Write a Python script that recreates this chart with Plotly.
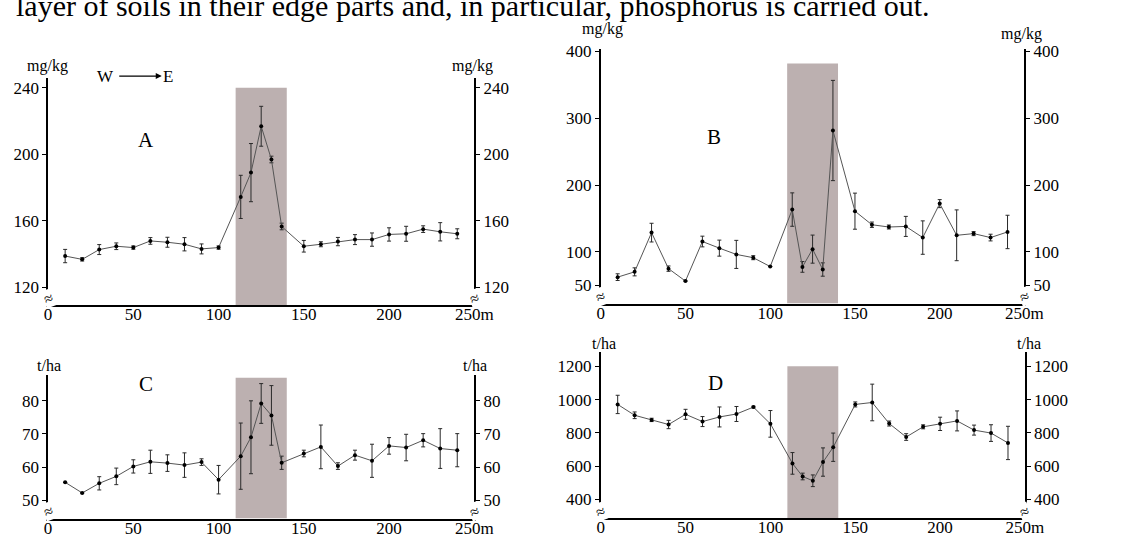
import plotly.graph_objects as go

W, H = 1139, 539
def px(x):
    return x / W
def py(y):
    return 1 - y / H

FONT = "Liberation Serif"

# ---------------- data ----------------
distance_m = [10, 20, 30, 40, 50, 60, 70, 80, 90, 100, 113, 119, 125, 131, 137,
              150, 160, 170, 180, 190, 200, 210, 220, 230, 240]

a_values = [138.8, 136.8, 142.7, 144.7, 143.9, 147.9, 147.1, 145.9, 143.1, 143.9,
            174.4, 189.0, 216.9, 196.9, 156.6,
            144.7, 145.9, 147.5, 148.7, 148.7, 151.8, 152.2, 155.0, 153.4, 152.2]
a_errors = [4, 1, 3, 2, 1, 2, 3, 4, 3, 1,
            13, 17.5, 12, 2, 2,
            3.5, 1.5, 2.5, 3, 4, 4, 4.5, 2, 5.5, 3]

b_values = [62.3, 70.2, 128.9, 75.0, 56.4, 115.6, 105.7, 96.3, 91.4, 78.1,
            163.4, 77.6, 104.2, 73.7, 281.7,
            161.0, 140.7, 137.3, 138.2, 121.5, 172.3, 124.9, 127.4, 121.5, 129.9]
b_errors = [5, 6, 14, 4, 0, 8, 12, 21, 3, 0,
            25, 8, 21, 10, 75,
            27, 4, 3, 15, 25, 6, 38, 3, 5, 25]

c_values = [55.4, 52.2, 55.1, 57.2, 60.2, 61.6, 61.2, 60.6, 61.5, 56.2,
            63.3, 69.0, 79.2, 75.6, 61.3,
            64.1, 66.1, 60.3, 63.6, 61.9, 66.4, 65.9, 68.1, 65.6, 65.1]
c_errors = [0, 0, 2, 2.5, 2, 3.5, 2.5, 3.7, 1, 4.3,
            10, 11, 6, 9, 2,
            1, 6.6, 1, 1.5, 5, 2.5, 4, 2, 6, 5]

d_values = [970.9, 905.7, 878.0, 850.4, 911.6, 868.0, 895.8, 913.6, 955.0, 854.3,
            617.0, 538.3, 512.6, 625.0, 714.0,
            970.9, 982.7, 856.3, 775.3, 836.5, 854.3, 872.0, 816.8, 799.0, 739.7]
d_errors = [55, 20, 10, 25, 30, 30, 60, 45, 5, 80,
            65, 20, 35, 85, 85,
            15, 110, 15, 20, 12, 40, 60, 30, 50, 100]

x_ticks = [0, 50, 100, 150, 200, 250]
x_tick_text = ["0", "50", "100", "150", "200", "250m"]
a_ticks = [120, 160, 200, 240]
b_ticks = [50, 100, 200, 300, 400]
c_ticks = [50, 60, 70, 80]
d_ticks = [400, 600, 800, 1000, 1200]

zone_start, zone_end = 110, 140
units = ["mg/kg", "mg/kg", "t/ha", "t/ha"]
letters = ["A", "B", "C", "D"]

# ---------------- layout per panel ----------------
panels = [
    dict(vals=a_values, errs=a_errors, ticks=a_ticks, unit=units[0], letter=letters[0],
         xdom=(45, 480), ydom=(302, 72), yr=(109.3, 245.9), shade_top=240,
         unitL=(44.5, 60), unitR=(478, 60), let=(145, 135), brk=295),
    dict(vals=b_values, errs=b_errors, ticks=b_ticks, unit=units[1], letter=letters[1],
         xdom=(609, 1041.5), ydom=(300.5, 43), yr=(22.7, 403), shade_top=382,
         unitL=(610.5, 22), unitR=(1038, 27), let=(725, 132), brk=293),
    dict(vals=c_values, errs=c_errors, ticks=c_ticks, unit=units[2], letter=letters[2],
         xdom=(45, 480), ydom=(518.3, 373), yr=(44.46, 87.75), shade_top=87,
         unitL=(46, 363), unitR=(481, 363), let=(145, 382), brk=511),
    dict(vals=d_values, errs=d_errors, ticks=d_ticks, unit=units[3], letter=letters[3],
         xdom=(609, 1042), ydom=(517.7, 350), yr=(289.2, 1283), shade_top=1200,
         unitL=(612, 341), unitR=(1046, 341), let=(726, 381), brk=511),
]

fig = go.Figure()
annotations = []
shapes = []
layout = {}

axis_common = dict(showgrid=False, zeroline=False, showline=True, linecolor="black",
                   tickcolor="black", tickfont=dict(family=FONT, size=17, color="black"))

for i, p in enumerate(panels, start=1):
    xa = f"x{i}"
    ya = f"y{i}"
    yr_name = f"y{i + 4}"
    fig.add_trace(go.Scatter(
        x=distance_m, y=p["vals"], xaxis=xa, yaxis=ya, mode="lines+markers",
        line=dict(color="#555555", width=1),
        marker=dict(color="black", size=4, symbol="circle"),
        error_y=dict(type="data", array=p["errs"], color="#2a2a2a", thickness=1, width=2),
        showlegend=False, cliponaxis=False,
    ))
    fig.add_trace(go.Scatter(x=[None], y=[None], xaxis=xa, yaxis=yr_name,
                             showlegend=False, hoverinfo="skip"))
    xdom = [px(p["xdom"][0]), px(p["xdom"][1])]
    ydom = [py(p["ydom"][0]), py(p["ydom"][1])]
    layout[f"xaxis{i}"] = dict(axis_common, domain=xdom, range=[0, 250], anchor=ya,
                               tickvals=x_ticks, ticktext=x_tick_text,
                               ticks="", linewidth=2, ticklabelstandoff=-7)
    layout[f"yaxis{i}"] = dict(axis_common, domain=ydom, range=list(p["yr"]), anchor=xa,
                               tickvals=p["ticks"], ticks="outside", ticklen=4,
                               linewidth=1.5, side="left")
    layout[f"yaxis{i + 4}"] = dict(axis_common, range=list(p["yr"]), anchor=xa,
                                   overlaying=ya, side="right",
                                   tickvals=p["ticks"], ticks="outside", ticklen=4,
                                   linewidth=1.5)
    shapes.append(dict(type="rect", xref=xa, yref=ya, x0=zone_start, x1=zone_end,
                       y0=p["yr"][0], y1=p["shade_top"], fillcolor="#bcb0b0",
                       line=dict(width=0), layer="below"))
    for (ux, uy) in (p["unitL"], p["unitR"]):
        annotations.append(dict(xref="paper", yref="paper", x=px(ux), y=py(uy),
                                text=p["unit"], showarrow=False, xanchor="center",
                                yanchor="middle", font=dict(family=FONT, size=16, color="black")))
    annotations.append(dict(xref="paper", yref="paper", x=px(p["let"][0]), y=py(p["let"][1]),
                            text=p["letter"], showarrow=False, xanchor="center",
                            yanchor="middle", font=dict(family=FONT, size=21, color="black")))
    for bx in p["xdom"]:
        annotations.append(dict(xref="paper", yref="paper", x=px(bx), y=py(p["brk"]),
                                text="≈", showarrow=False, xanchor="center", yanchor="middle",
                                textangle=-20, bgcolor="white", borderpad=0,
                                font=dict(family=FONT, size=16, color="black")))

# W -> E arrow
annotations.append(dict(xref="paper", yref="paper", x=px(104), y=py(70), text="W",
                        showarrow=False, xanchor="center", yanchor="middle",
                        font=dict(family=FONT, size=17, color="black")))
annotations.append(dict(xref="paper", yref="paper", x=px(167), y=py(70), text="E",
                        showarrow=False, xanchor="center", yanchor="middle",
                        font=dict(family=FONT, size=17, color="black")))
annotations.append(dict(xref="paper", yref="paper", x=px(161), y=py(70), text="",
                        showarrow=True, ax=-44, ay=0, arrowhead=2, arrowsize=1,
                        arrowwidth=1.2, arrowcolor="black"))

# cropped header line from the source page
annotations.append(dict(xref="paper", yref="paper", x=px(10), y=py(17),
                        text="layer of soils in their edge parts and, in particular, phosphorus is carried out.",
                        showarrow=False, xanchor="left", yanchor="bottom",
                        font=dict(family=FONT, size=30, color="black")))

fig.update_layout(
    width=W, height=H, margin=dict(l=0, r=0, t=0, b=0),
    plot_bgcolor="white", paper_bgcolor="white",
    annotations=annotations, shapes=shapes, **layout,
)

fig.write_html("out.html")
